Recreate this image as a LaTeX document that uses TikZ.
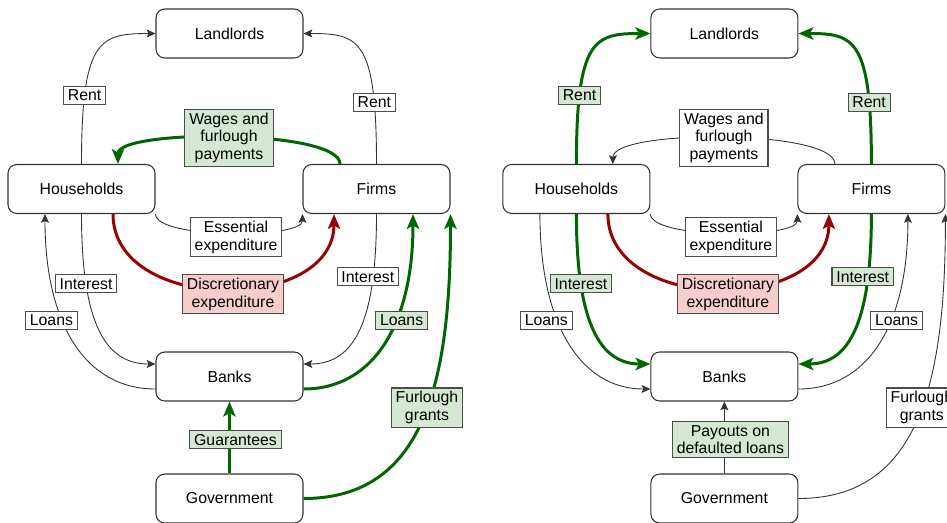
\documentclass[tikz,border=0pt]{standalone}
\usepackage{fontspec}
\setmainfont{Liberation Sans}
\usetikzlibrary{arrows.meta,calc}
\definecolor{flowgreen}{RGB}{0,102,0}
\definecolor{flowred}{RGB}{153,0,0}
\definecolor{greenfill}{HTML}{D5E8D4}
\definecolor{redfill}{HTML}{F8CECC}

\begin{document}
\begin{tikzpicture}[x=0.02cm, y=-0.02cm, font=\fontsize{9}{10}\selectfont,
  box/.style={draw=black!80, line width=0.6pt, rounded corners=5pt, fill=white, minimum width=2.94cm, minimum height=0.98cm},
  lbl/.style={draw=black!70, line width=0.6pt, fill=white, inner xsep=2.5pt, inner ysep=2pt, align=center},
  glbl/.style={lbl, fill=greenfill},
  rlbl/.style={lbl, fill=redfill},
  bflow/.style={draw=black!80, line width=0.5pt, -{Stealth[length=5pt,width=4.5pt,inset=1pt]}},
  gflow/.style={draw=flowgreen, line width=1.7pt, -{Stealth[length=8.5pt,width=7pt,inset=2pt]}},
  rflow/.style={draw=flowred, line width=1.7pt, -{Stealth[length=8.5pt,width=7pt,inset=2pt]}}]
  \useasboundingbox (0,0) rectangle (947,522);
  \clip (0,0) rectangle (947,522);

  \node[box] (land1) at (229.5,33.5) {Landlords};
  \node[box] (house1) at (81.5,189) {Households};
  \node[box] (firm1) at (376.5,189) {Firms};
  \node[box] (bank1) at (229.5,376.5) {Banks};
  \node[box] (gov1) at (229.5,498.5) {Government};

  \draw[bflow] (house1.north) .. controls +(0,-125) and +(-56,0) .. (land1.west) node[lbl,pos=.23] (rent1a) {Rent};
  \draw[bflow] (firm1.north) .. controls +(0,-125) and +(56,0) .. (land1.east) node[lbl,pos=.2] (rent1b) {Rent};
  \draw[gflow] ($(firm1.north)+(-36.5,0)$) .. controls +(0,-35) and +(0,-35) .. ($(house1.north)+(36.5,0)$) node[glbl,pos=.5] (wage1) {Wages and\\furlough\\payments};
  \draw[bflow] (house1.south east) .. controls +(0,25) and +(0,25) .. (firm1.south west) node[lbl,pos=.5,xshift=4pt,yshift=-2.5pt] (ess1) {Essential\\expenditure};
  \draw[rflow] ($(house1.south)+(31.5,0)$) .. controls +(0,100) and +(0,100) .. ($(firm1.south)+(-42.5,0)$) node[rlbl,pos=.5,xshift=5.4pt,yshift=-3pt] (disc1) {Discretionary\\expenditure};
  \draw[bflow] ($(bank1.west)+(0,12.5)$) .. controls +(-70,0) and +(0,110) .. ($(house1.south)+(-36.5,0)$) node[lbl,pos=.6,xshift=-7pt,yshift=1.5pt] (loan1a) {Loans};
  \draw[bflow] (house1.south) .. controls +(0,110) and +(-50,0) .. ($(bank1.west)+(0,-12.5)$) node[lbl,pos=.25] (int1a) {Interest};
  \draw[bflow] (firm1.south) .. controls +(0,110) and +(50,0) .. ($(bank1.east)+(0,-12.5)$) node[lbl,pos=.22,xshift=-3pt] (int1b) {Interest};
  \draw[gflow] ($(bank1.east)+(0,12.5)$) .. controls +(70,0) and +(0,110) .. ($(firm1.south)+(36.5,0)$) node[glbl,pos=.6,xshift=4pt,yshift=1.7pt] (loan1b) {Loans};
  \draw[gflow] (gov1) -- (bank1) node[glbl,pos=.47,xshift=3.4pt] (guar1) {Guarantees};
  \draw[gflow] (gov1.east) .. controls +(120,0) and +(0,170) .. (firm1.south east) node[glbl,pos=.54] (grant1) {Furlough\\grants};

  \begin{scope}[xshift=9.9cm]
  \node[box] (land2) at (229.5,33.5) {Landlords};
  \node[box] (house2) at (81.5,189) {Households};
  \node[box] (firm2) at (376.5,189) {Firms};
  \node[box] (bank2) at (229.5,376.5) {Banks};
  \node[box] (gov2) at (229.5,498.5) {Government};

  \draw[gflow] (house2.north) .. controls +(0,-125) and +(-56,0) .. (land2.west) node[glbl,pos=.23] (rent2a) {Rent};
  \draw[gflow] (firm2.north) .. controls +(0,-125) and +(56,0) .. (land2.east) node[glbl,pos=.2] (rent2b) {Rent};
  \draw[bflow] ($(firm2.north)+(-36.5,0)$) .. controls +(0,-35) and +(0,-35) .. ($(house2.north)+(36.5,0)$) node[lbl,pos=.5] (wage2) {Wages and\\furlough\\payments};
  \draw[bflow] (house2.south east) .. controls +(0,25) and +(0,25) .. (firm2.south west) node[lbl,pos=.5,xshift=4pt,yshift=-2.5pt] (ess2) {Essential\\expenditure};
  \draw[rflow] ($(house2.south)+(31.5,0)$) .. controls +(0,100) and +(0,100) .. ($(firm2.south)+(-42.5,0)$) node[rlbl,pos=.5,xshift=5.4pt,yshift=-3pt] (disc2) {Discretionary\\expenditure};
  \draw[bflow] ($(house2.south)+(-36.5,0)$) .. controls +(0,110) and +(-70,0) .. ($(bank2.west)+(0,12.5)$) node[lbl,pos=.4,xshift=-7pt,yshift=1.5pt] (loan2a) {Loans};
  \draw[gflow] (house2.south) .. controls +(0,110) and +(-50,0) .. ($(bank2.west)+(0,-12.5)$) node[glbl,pos=.25] (int2a) {Interest};
  \draw[gflow] (firm2.south) .. controls +(0,110) and +(50,0) .. ($(bank2.east)+(0,-12.5)$) node[glbl,pos=.22,xshift=-3pt] (int2b) {Interest};
  \draw[bflow] ($(bank2.east)+(0,12.5)$) .. controls +(70,0) and +(0,110) .. ($(firm2.south)+(36.5,0)$) node[lbl,pos=.6,xshift=4pt,yshift=1.7pt] (loan2b) {Loans};
  \draw[bflow] (gov2) -- (bank2) node[glbl,pos=.47,xshift=3.4pt] (pay2) {Payouts on\\defaulted loans};
  \draw[bflow] (gov2.east) .. controls +(120,0) and +(0,170) .. (firm2.south east) node[lbl,pos=.54] (grant2) {Furlough\\grants};
  \end{scope}
\end{tikzpicture}
\end{document}
